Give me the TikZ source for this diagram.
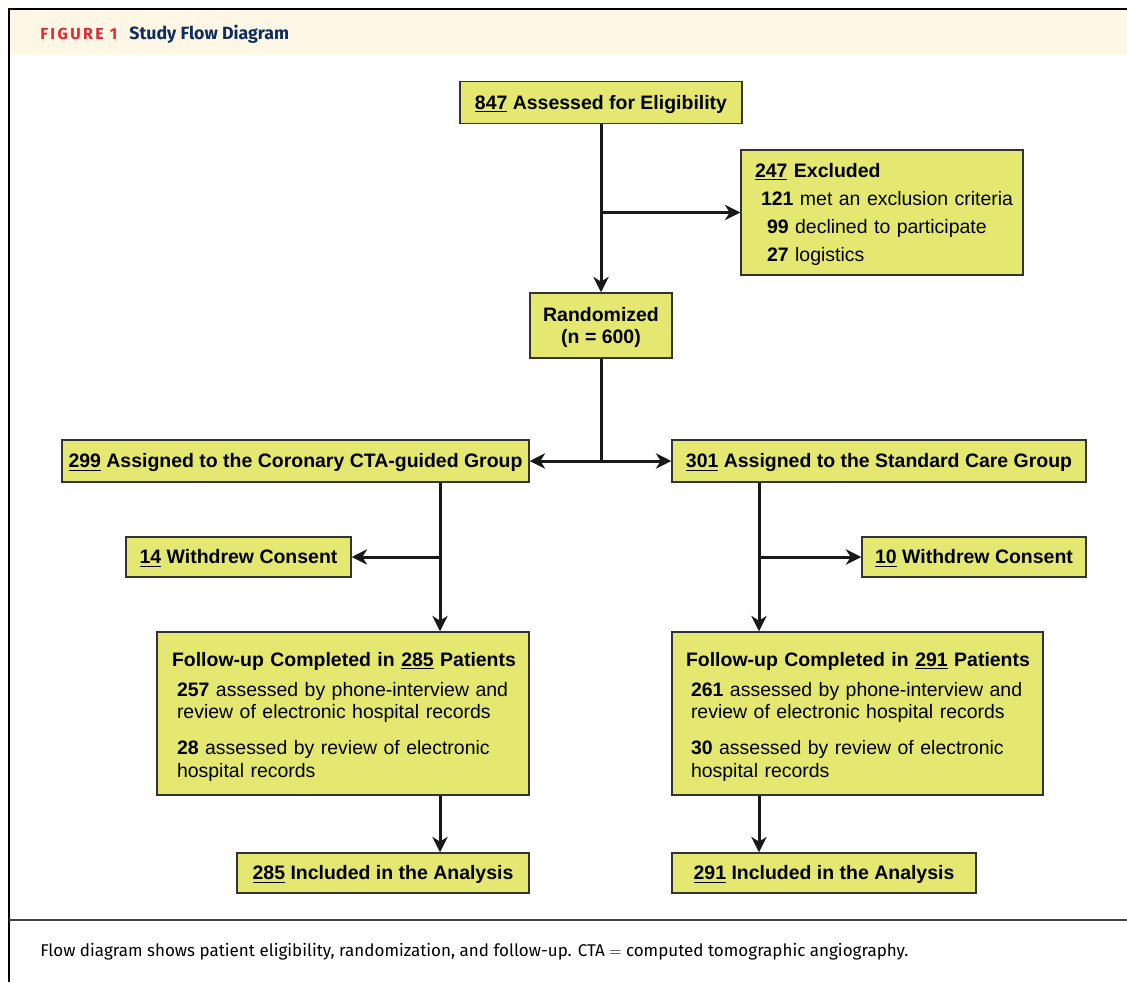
\documentclass[tikz,border=0pt]{standalone}
\usepackage{fontspec}
\setmainfont{Liberation Sans}
\newfontfamily\titrefont{Fira Sans}
\newfontfamily\legendefont{Fira Sans}
\usetikzlibrary{arrows.meta, positioning}
\definecolor{jaune}{RGB}{228,231,112}
\definecolor{creme}{RGB}{254,247,229}
\definecolor{rouge}{RGB}{228,38,50}
\definecolor{marine}{RGB}{14,46,94}
\newcommand{\cnt}[1]{\underline{#1}}

\begin{document}
\begin{tikzpicture}[
    x=0.75pt, y=-0.75pt,
    boite/.style={draw=black!80, fill=jaune, line width=1.1pt,
                  text height=10.45pt, text depth=0pt,
                  font=\fontsize{14.6}{17}\selectfont\bfseries},
    liste/.style={draw=black!80, fill=jaune, line width=1.1pt,
                  align=left, inner xsep=4.5pt,
                  font=\fontsize{14.6}{17}\selectfont},
    taille/.style 2 args={minimum width=#1*0.75pt, minimum height=#2*0.75pt},
    fleche/.style={-{Stealth[length=11.5pt, width=11.5pt, inset=3.5pt]},
                   line width=2.25pt, black!90},
    trait/.style={line width=2.25pt, black!90}
  ]
    \useasboundingbox (0,0) rectangle (1127,982);

    % Cadre et bandeau
    \fill[creme] (9,9) rectangle (1127,55);
    \draw[line width=1.5pt] (9,982) -- (9,9) -- (1127,9);
    \draw[line width=1.1pt, black!75] (9,920) -- (1127,920);
    \node[anchor=base west, inner sep=0pt] (titre) at (40,39.5)
      {\titrefont\bfseries{\fontsize{12}{14}\selectfont\color{rouge}%
       \addfontfeature{LetterSpace=15}FIGURE 1}\hspace{9pt}%
       {\fontsize{13.3}{15}\selectfont\color{marine}Study Flow Diagram}};
    \node[anchor=base west, inner sep=0pt] (legende) at (40,956)
      {\legendefont\fontsize{12.75}{14}\selectfont Flow diagram shows patient
       eligibility, randomization, and follow-up. CTA $=$ computed
       tomographic angiography.};

    % Noeuds
    \node[boite, taille={282}{42}] (evalue) at (601,102.5)
      {\cnt{847} Assessed for Eligibility};
    \node[liste, taille={282}{125}, text width=202.5pt,
          font=\fontsize{14.6}{21}\selectfont] (exclus) at (882,212.5)
      {\rule{0pt}{13.8pt}\hspace*{6pt}\textbf{\cnt{247} Excluded}\\
       \hspace*{10.5pt}\textbf{121} met an exclusion criteria\\
       \hspace*{15pt}\textbf{99} declined to participate\\
       \hspace*{15pt}\textbf{27} logistics};
    \node[boite, taille={142}{65}, align=center, text height=, text depth=0pt]
      (randomise) at (601,325.5)
      {Randomized\\(n = 600)};
    \node[boite, taille={467}{42}] (groupeA) at (295.5,461)
      {\cnt{299} Assigned to the Coronary CTA-guided Group};
    \node[boite, taille={414}{42}] (groupeB) at (879,461)
      {\cnt{301} Assigned to the Standard Care Group};
    \node[boite, taille={225}{40}] (retraitA) at (238.5,557)
      {\cnt{14} Withdrew Consent};
    \node[boite, taille={224}{40}] (retraitB) at (974,557)
      {\cnt{10} Withdrew Consent};
    \node[liste, taille={372}{163}, text width=270pt] (suiviA) at (343,713.5)
      {\rule{0pt}{15.3pt}\hspace*{6.75pt}\textbf{Follow-up Completed in \cnt{285} Patients}\\[5.5pt]
       \hspace*{10.5pt}\textbf{257} assessed by phone-interview and\\
       \hspace*{10.5pt}review of electronic hospital records\\[10pt]
       \hspace*{10.5pt}\textbf{28} assessed by review of electronic\\
       \hspace*{10.5pt}hospital records};
    \node[liste, taille={371}{163}, text width=269.25pt] (suiviB) at (857.5,713.5)
      {\rule{0pt}{15.3pt}\hspace*{6pt}\textbf{Follow-up Completed in \cnt{291} Patients}\\[5.5pt]
       \hspace*{9.75pt}\textbf{261} assessed by phone-interview and\\
       \hspace*{9.75pt}review of electronic hospital records\\[10pt]
       \hspace*{9.75pt}\textbf{30} assessed by review of electronic\\
       \hspace*{9.75pt}hospital records};
    \node[boite, taille={292}{40}] (inclusA) at (383,873)
      {\cnt{285} Included in the Analysis};
    \node[boite, taille={304}{40}] (inclusB) at (824,873)
      {\cnt{291} Included in the Analysis};

    % Fleches du tronc
    \draw[fleche] (evalue) -- (randomise.north);
    \draw[fleche] (evalue |- exclus) -- (exclus);
    \coordinate (partage) at (randomise |- groupeA);
    \draw[trait] (randomise.south) -- (partage);
    \draw[fleche] (partage) -- (groupeA);
    \draw[fleche] (partage) -- (groupeB);

    % Colonne gauche
    \coordinate (colA) at (440,0);
    \draw[fleche] (colA |- groupeA.south) -- (colA |- suiviA.north);
    \draw[fleche] (colA |- retraitA) -- (retraitA);
    \draw[fleche] (colA |- suiviA.south) -- (colA |- inclusA.north);

    % Colonne droite
    \coordinate (colB) at (759,0);
    \draw[fleche] (colB |- groupeB.south) -- (colB |- suiviB.north);
    \draw[fleche] (colB |- retraitB) -- (retraitB);
    \draw[fleche] (colB |- suiviB.south) -- (colB |- inclusB.north);
  \end{tikzpicture}
\end{document}
